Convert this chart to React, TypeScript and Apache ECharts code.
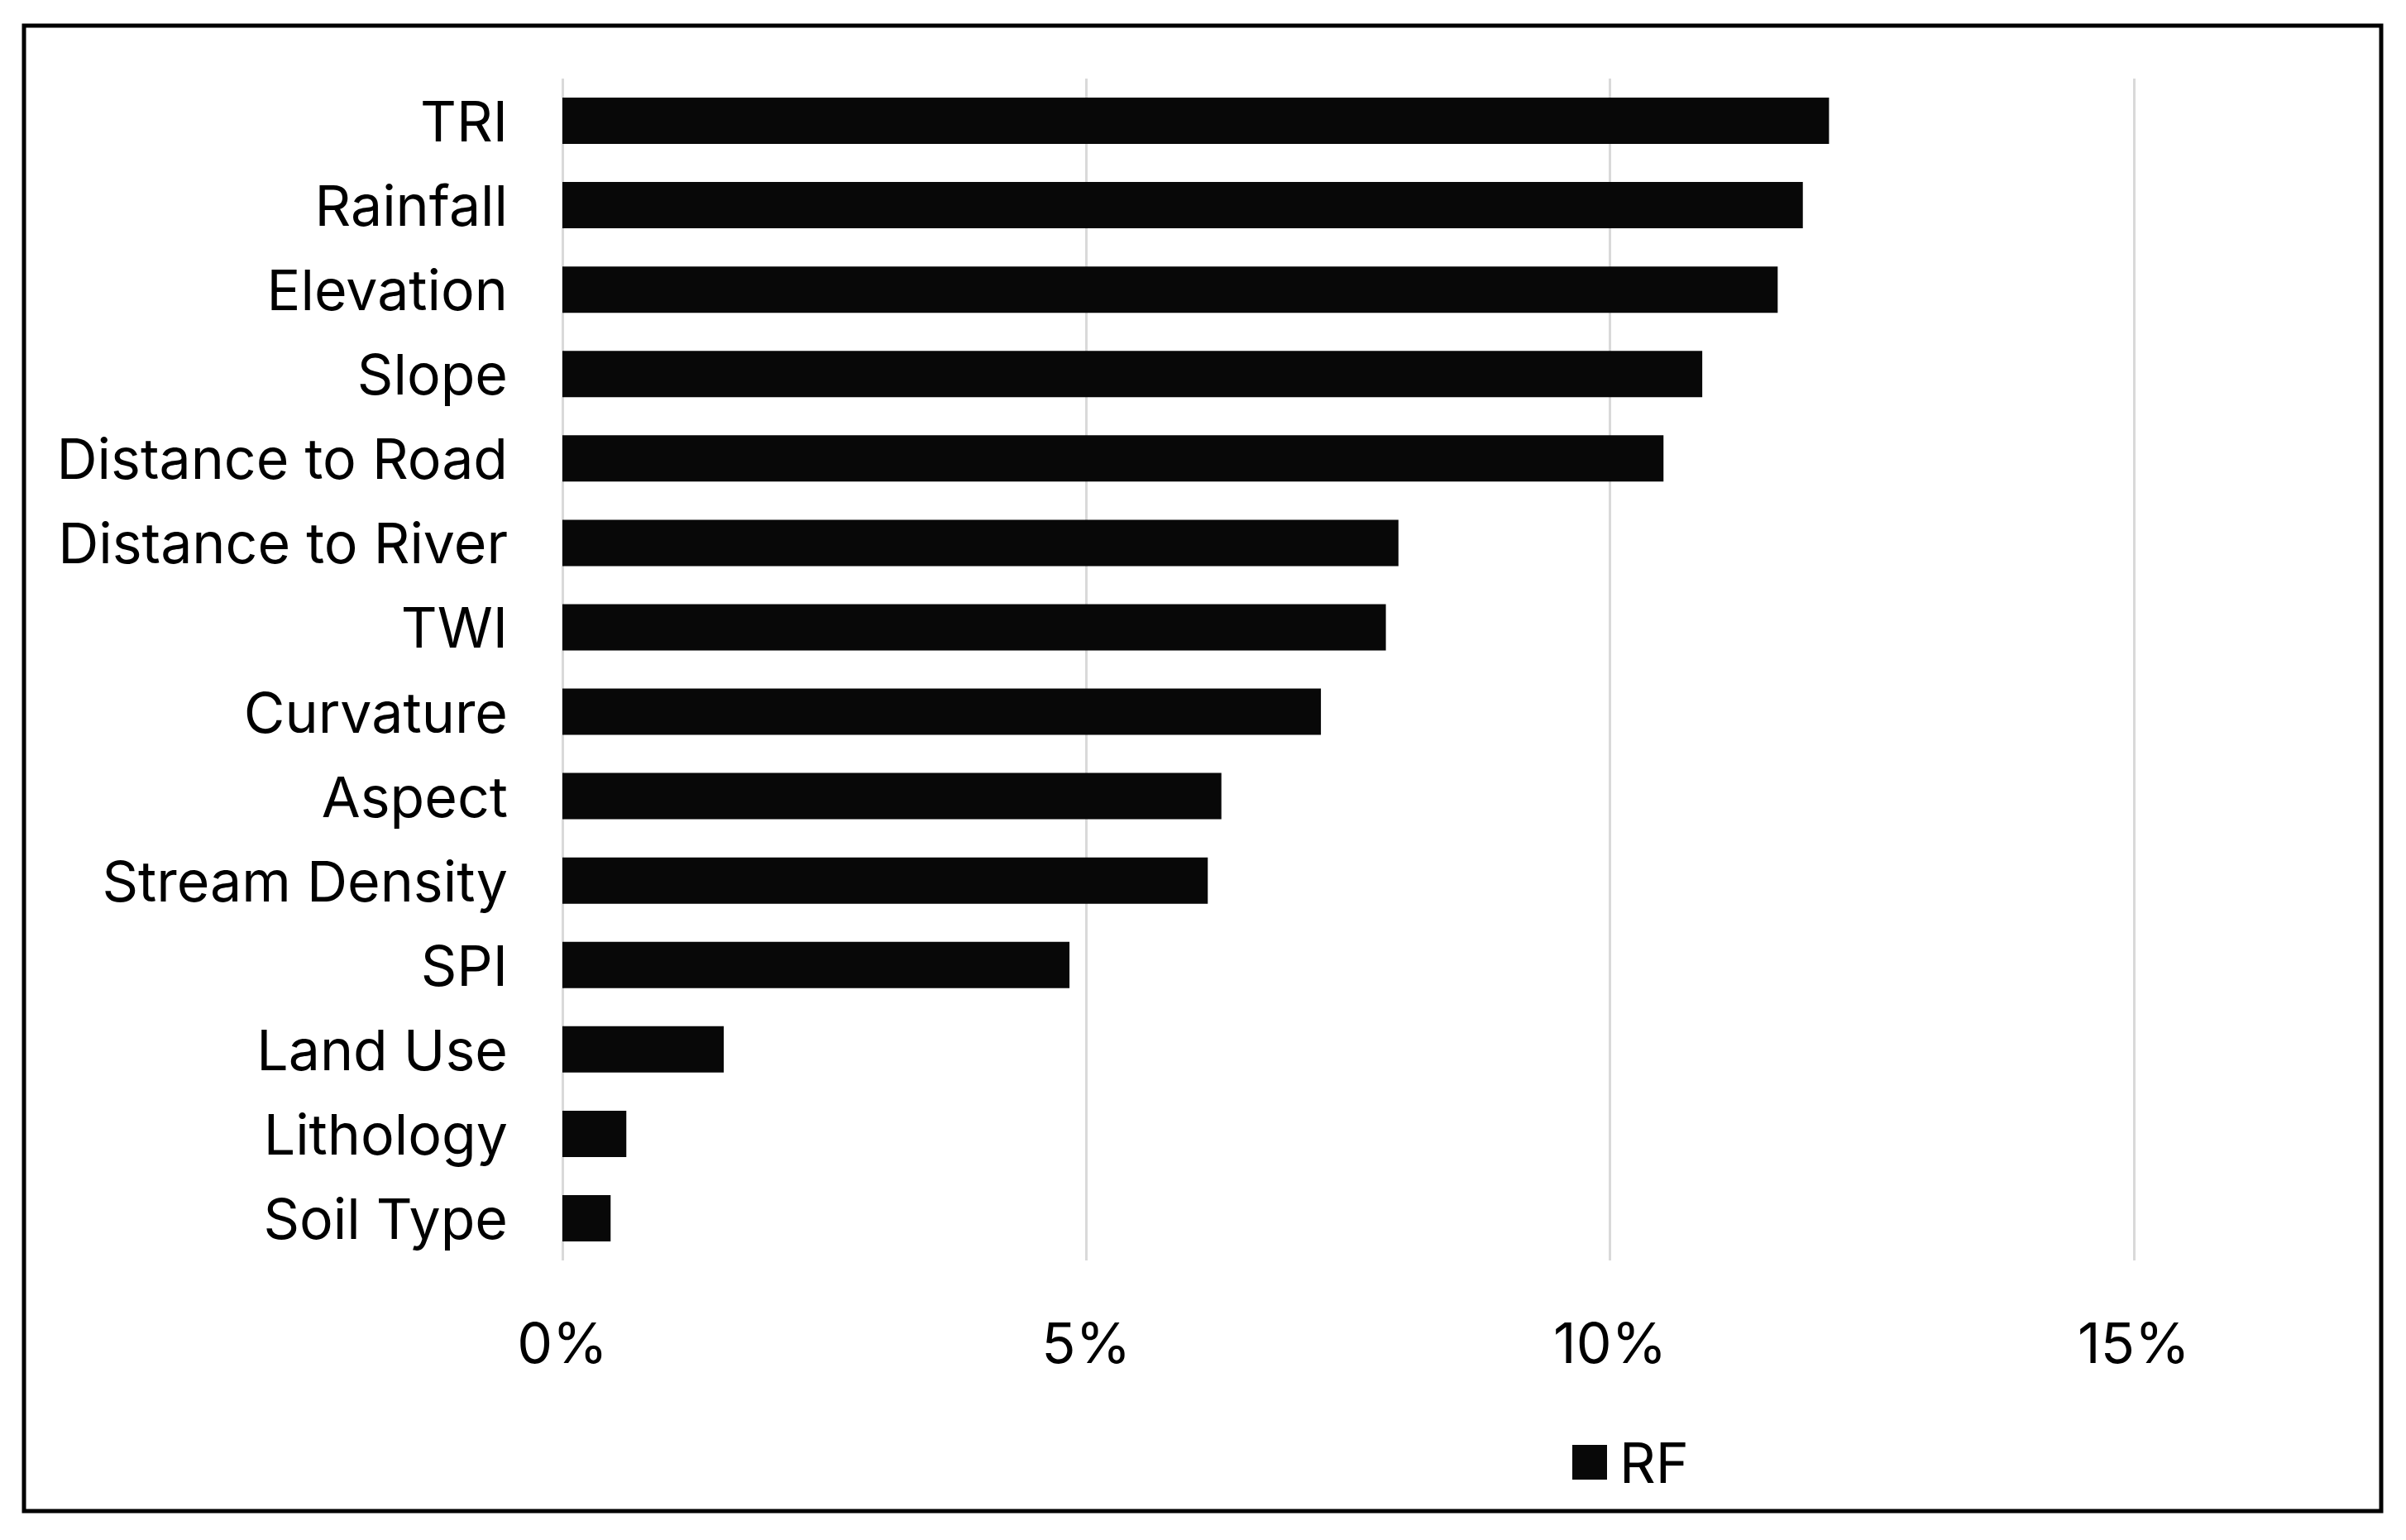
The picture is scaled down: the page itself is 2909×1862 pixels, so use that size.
import React, { useEffect, useRef } from "react";
import * as echarts from "echarts";

const categories = [
  "TRI",
  "Rainfall",
  "Elevation",
  "Slope",
  "Distance to Road",
  "Distance to River",
  "TWI",
  "Curvature",
  "Aspect",
  "Stream Density",
  "SPI",
  "Land Use",
  "Lithology",
  "Soil Type",
];
const rfValues = [12.09, 11.84, 11.6, 10.88, 10.51, 7.98, 7.86, 7.24, 6.29, 6.16, 4.84, 1.54, 0.61, 0.46];
const seriesName = "RF";
const xTicks = { min: 0, max: 15, interval: 5 };

export default function App() {
  const ref = useRef<HTMLDivElement>(null);
  useEffect(() => {
    if (!ref.current) return;
    const chart = echarts.init(ref.current, null, { renderer: "svg" });
    const font = "Inter, 'Noto Sans', sans-serif";
    chart.setOption({
      animation: false,
      backgroundColor: "#ffffff",
      grid: { left: 680, right: 329, top: 95, bottom: 338, containLabel: false },
      xAxis: {
        type: "value",
        min: xTicks.min,
        max: xTicks.max,
        interval: xTicks.interval,
        axisLine: { show: false },
        axisTick: { show: false },
        splitLine: { show: true, lineStyle: { color: "#d9d9d9", width: 3 } },
        axisLabel: {
          formatter: "{value}%",
          fontFamily: font,
          fontSize: 68,
          color: "#000",
          margin: 65,
        },
      },
      yAxis: {
        type: "category",
        data: categories,
        inverse: true,
        axisLine: { show: false },
        axisTick: { show: false },
        splitLine: { show: false },
        axisLabel: {
          fontFamily: font,
          fontSize: 68,
          color: "#000",
          margin: 66,
        },
      },
      legend: {
        data: [seriesName],
        left: 1896,
        top: 1729,
        icon: "rect",
        itemWidth: 42,
        itemHeight: 42,
        textStyle: { fontFamily: font, fontSize: 68, color: "#000", padding: [0, 0, 0, 10] },
      },
      series: [
        {
          name: seriesName,
          type: "bar",
          data: rfValues,
          barWidth: 56,
          itemStyle: { color: "#080808" },
        },
      ],
      graphic: [
        {
          type: "rect",
          shape: { x: 29, y: 31, width: 2850, height: 1796 },
          style: { fill: "none", stroke: "#000", lineWidth: 5 },
          silent: true,
        },
      ],
    });
    return () => chart.dispose();
  }, []);
  return (
    <div
      ref={ref}
      style={{ position: "fixed", left: 0, top: 0, width: 2909, height: 1862 }}
    />
  );
}
